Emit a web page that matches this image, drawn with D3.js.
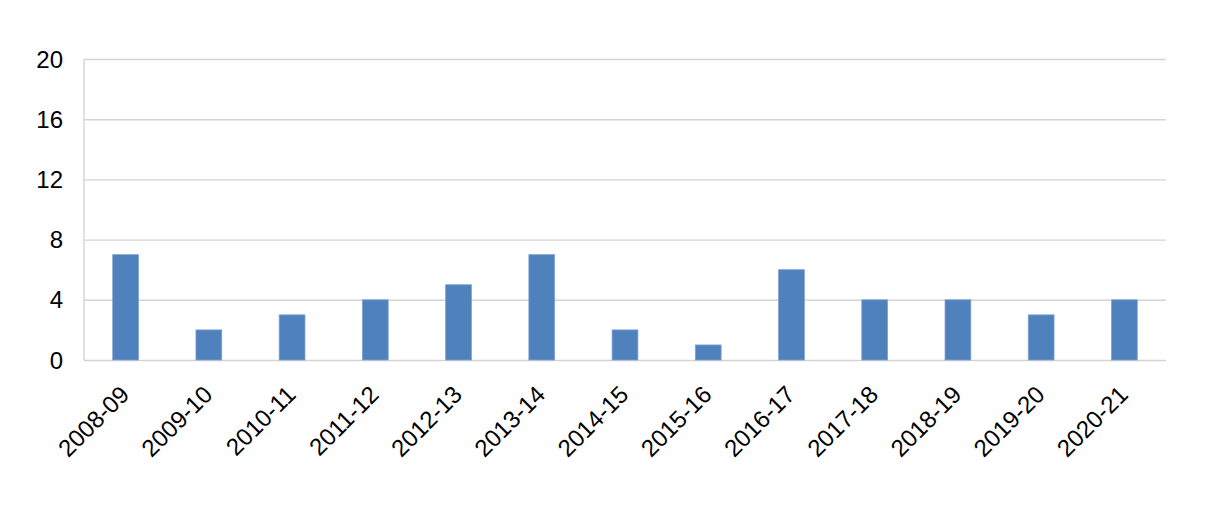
<!DOCTYPE html>
<html>
<head>
<meta charset="utf-8">
<script src="https://cdn.jsdelivr.net/npm/d3@7"></script>
<style>
  html, body { margin: 0; padding: 0; background: #fff; }
  svg text { font-family: "Liberation Sans", Arial, sans-serif; fill: #000; }
</style>
</head>
<body>
<div id="chart"></div>
<script>
const years = ["2008-09", "2009-10", "2010-11", "2011-12", "2012-13", "2013-14", "2014-15",
  "2015-16", "2016-17", "2017-18", "2018-19", "2019-20", "2020-21"];
const counts = [7, 2, 3, 4, 5, 7, 2, 1, 6, 4, 4, 3, 4];
const yTicks = [0, 4, 8, 12, 16, 20];

const W = 1218, H = 512;
const margin = { top: 59, right: 52, bottom: 152, left: 84 };
const w = W - margin.left - margin.right;
const h = H - margin.top - margin.bottom;

const svg = d3.select("#chart").append("svg")
  .attr("width", W).attr("height", H);
const g = svg.append("g").attr("transform", `translate(${margin.left},${margin.top})`);

const x = d3.scaleBand().domain(years).range([0, w]).paddingInner(0.69).paddingOuter(0.345);
const y = d3.scaleLinear().domain([0, 20]).range([h, 0]);

// gridlines
g.append("g")
  .call(d3.axisLeft(y).tickValues(yTicks).tickSize(-w).tickFormat(""))
  .call(a => a.select(".domain").remove())
  .call(a => a.selectAll(".tick line").attr("stroke", "#d4d4d4").attr("stroke-width", 1.4));

// left axis line
g.append("line")
  .attr("x1", 0).attr("x2", 0).attr("y1", 0).attr("y2", h)
  .attr("stroke", "#d4d4d4").attr("stroke-width", 1.4);

// y labels
g.append("g").selectAll("text").data(yTicks).join("text")
  .attr("x", -21).attr("y", d => y(d)).attr("dy", "0.36em")
  .attr("text-anchor", "end").attr("font-size", 24)
  .text(d => d);

// bars
g.append("g").selectAll("rect").data(counts).join("rect")
  .attr("x", (d, i) => x(years[i])).attr("y", d => y(d))
  .attr("width", x.bandwidth()).attr("height", d => h - y(d))
  .attr("fill", "#4f81bd").attr("stroke", "#7fa3d3").attr("stroke-width", 0.8);

// x labels
g.append("g").selectAll("text").data(years).join("text")
  .attr("transform", d => `translate(${x(d) + x.bandwidth() / 2 + 5},${h + 36}) rotate(-45)`)
  .attr("text-anchor", "end").attr("font-size", 24)
  .text(d => d);
</script>
</body>
</html>
